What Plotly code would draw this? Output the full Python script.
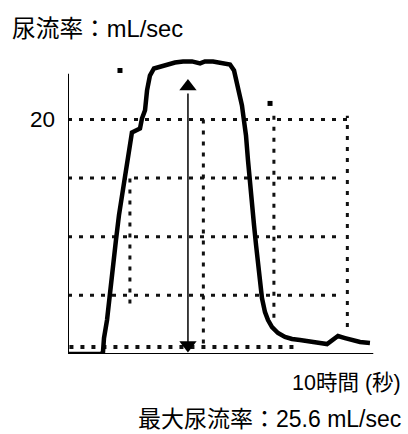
import plotly.graph_objects as go

# flow curve (time in s, flow in mL/sec)
time_s = [0.0, 2.3, 2.43, 2.5, 2.71, 2.92, 3.13, 3.33, 3.54, 3.75, 3.96, 4.17, 4.31, 4.44, 4.72, 5.0,
          5.14, 5.35, 5.49, 5.69, 5.97, 6.39, 6.88, 7.43, 7.99, 8.61, 9.17, 9.51, 10.07, 10.69,
          11.25, 11.53, 11.74, 11.94, 12.08, 12.22, 12.36, 12.5, 12.64, 12.78, 12.92, 13.06,
          13.19, 13.33, 13.47, 13.68, 13.89, 14.17, 14.58, 15.07, 15.56, 16.11, 16.81, 17.5,
          17.99, 18.33, 18.75, 19.24, 19.72, 20.28, 20.97]
flow = [0.0, 0.0, 0.17, 1.36, 2.89, 5.45, 7.57, 9.7, 11.83, 13.53, 14.98, 16.51, 17.53, 18.89, 19.06, 19.23,
        20.09, 20.77, 22.47, 23.74, 24.34, 24.51, 24.68, 24.85, 24.94, 24.94, 24.77, 24.94, 24.94, 24.85,
        24.68, 24.17, 23.15, 22.04, 21.19, 19.91, 18.64, 16.51, 14.38, 12.68, 10.98, 9.28,
        7.57, 6.13, 4.77, 3.57, 2.89, 2.30, 1.79, 1.45, 1.28, 1.19, 1.02, 0.94,
        0.85, 1.19, 1.53, 1.36, 1.19, 1.02, 0.94]

# isolated dots
dot_t = [3.61, 14.03]
dot_v = [24.17, 21.36]

# grid
h_grid_v = [20, 15, 10, 5]
h_grid_end = [19.4, 18.9, 18.9, 18.9]
v_grid_t = [4.3, 9.4, 14.3, 19.4]
v_grid_lo = [4.3, 0.9, 3.1, 2.3]
v_grid_hi = [15.0, 20.3, 20.5, 20.3]
base_dots_v = 0.6
base_dots_end = 16.1

# max-flow arrow
arrow_t = 8.33
arrow_lo = 0.9
arrow_hi = 22.2
arrow_head_top = 22.8
arrow_head_bot = 0.77

y_axis_top = 23.9
x_axis_end = 21.2
X_MAX = 21.32
Y_MAX = 26.0

title_text = "尿流率：mL/sec"
xlabel_text = "10時間 (秒)"
max_text = "最大尿流率：25.6 mL/sec"
ytick_text = "20"

FONT = "Liberation Sans, Arial, Noto Sans CJK JP"
dot_dash = "4px,7px"

fig = go.Figure()
shapes = []
for v, e in zip(h_grid_v, h_grid_end):
    shapes.append(dict(type="line", x0=0, x1=e, y0=v, y1=v, xref="x", yref="y",
                       line=dict(color="#111", width=3, dash=dot_dash), layer="below"))
for t, lo, hi in zip(v_grid_t, v_grid_lo, v_grid_hi):
    shapes.append(dict(type="line", x0=t, x1=t, y0=lo, y1=hi, xref="x", yref="y",
                       line=dict(color="#111", width=3, dash=dot_dash), layer="below"))
shapes.append(dict(type="line", x0=0.1, x1=base_dots_end, y0=base_dots_v, y1=base_dots_v,
                   line=dict(color="#111", width=4, dash=dot_dash), layer="below"))
# axes
shapes.append(dict(type="line", x0=0, x1=0, y0=0, y1=y_axis_top, line=dict(color="#000", width=2)))
shapes.append(dict(type="line", x0=0, x1=x_axis_end, y0=0, y1=0, line=dict(color="#000", width=2)))
# arrow shaft
shapes.append(dict(type="line", x0=arrow_t, x1=arrow_t, y0=arrow_lo, y1=arrow_hi,
                   line=dict(color="#000", width=1.5)))

fig.add_trace(go.Scatter(x=time_s, y=flow, mode="lines",
                         line=dict(color="#000", width=4.5), hoverinfo="skip"))
fig.add_trace(go.Scatter(x=dot_t, y=dot_v, mode="markers",
                         marker=dict(symbol="square", size=5, color="#000")))
fig.add_trace(go.Scatter(x=[arrow_t, arrow_t], y=[arrow_head_top, arrow_head_bot], mode="markers",
                         marker=dict(symbol=["triangle-up", "triangle-down"], size=15, color="#000")))

annotations = [
    dict(text=title_text, x=-0.19, y=1.067, xref="paper", yref="paper", xanchor="left",
         yanchor="middle", showarrow=False, font=dict(size=23.7, family=FONT, color="#000")),
    dict(text=ytick_text, x=-0.036, y=20, xref="paper", yref="y", xanchor="right", yanchor="middle",
         showarrow=False, font=dict(size=22.5, family=FONT, color="#000")),
    dict(text=xlabel_text, x=1.091, y=-0.095, xref="paper", yref="paper", xanchor="right",
         yanchor="middle", showarrow=False, font=dict(size=21.5, family=FONT, color="#000")),
    dict(text=max_text, x=1.091, y=-0.214, xref="paper", yref="paper", xanchor="right",
         yanchor="middle", showarrow=False, font=dict(size=23, family=FONT, color="#000")),
]

fig.update_layout(
    width=408, height=434, showlegend=False,
    margin=dict(l=68, r=33, t=48.5, b=80),
    paper_bgcolor="white", plot_bgcolor="white",
    xaxis=dict(range=[0, X_MAX], visible=False, fixedrange=True),
    yaxis=dict(range=[0, Y_MAX], visible=False, fixedrange=True),
    shapes=shapes, annotations=annotations,
)

fig.write_html("out.html", config={"displayModeBar": False},
               post_script="document.body.style.margin='0';document.body.style.overflow='hidden';")
